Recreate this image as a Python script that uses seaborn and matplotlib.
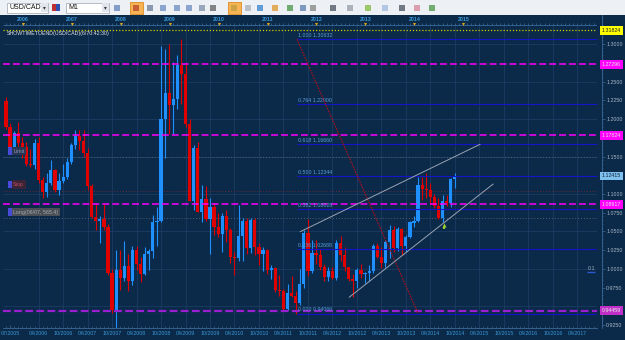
import matplotlib
matplotlib.use("Agg")
import numpy as np
import matplotlib.pyplot as plt
import matplotlib.transforms as mtransforms
from matplotlib.patches import Rectangle
from matplotlib.ticker import MultipleLocator
import seaborn as sns

# monthly USD/CAD candles, first bar = 08/2005, last bar = 10/2014
opens = [
    1.2240, 1.1887, 1.1615, 1.1808, 1.1680,                                          # 2005
    1.1630, 1.1405, 1.1385, 1.1675, 1.1185, 1.1030, 1.1150, 1.1315, 1.1050, 1.1170, 1.1230, 1.1425,  # 2006
    1.1650, 1.1780, 1.1710, 1.1550, 1.1100, 1.0690, 1.0640, 1.0660, 1.0560, 0.9950, 0.9450, 0.9990,  # 2007
    0.9885, 1.0040, 0.9840, 1.0250, 1.0070, 0.9930, 1.0200, 1.0235, 1.0620, 1.0640, 1.2000, 1.2350,  # 2008
    1.2185, 1.2270, 1.2720, 1.2600, 1.1930, 1.0910, 1.1620, 1.0765, 1.0930, 1.0670, 1.0820, 1.0565,  # 2009
    1.0465, 1.0700, 1.0520, 1.0165, 1.0150, 1.0445, 1.0644, 1.0276, 1.0653, 1.0290, 1.0200, 1.0255,  # 2010
    0.9980, 1.0010, 0.9720, 0.9705, 0.9465, 0.9685, 0.9645, 0.9545, 0.9795, 1.0475, 0.9975, 1.0215,  # 2011
    1.0190, 1.0025, 0.9895, 0.9975, 0.9880, 1.0345, 1.0190, 1.0025, 0.9865, 0.9835, 0.9985, 0.9935,  # 2012
    0.9950, 0.9975, 1.0305, 1.0160, 1.0075, 1.0365, 1.0515, 1.0275, 1.0530, 1.0300, 1.0430, 1.0615,  # 2013
    1.0640, 1.1120, 1.1065, 1.1050, 1.0965, 1.0835, 1.0675, 1.0900, 1.0875, 1.1195,                  # 2014
]
highs = [
    1.2290, 1.1945, 1.1840, 1.1960, 1.1760,
    1.1700, 1.1600, 1.1740, 1.1760, 1.1220, 1.1280, 1.1450, 1.1330, 1.1280, 1.1400, 1.1480, 1.1680,
    1.1850, 1.1860, 1.1860, 1.1610, 1.1130, 1.0860, 1.0700, 1.0860, 1.0600, 1.0000, 1.0250, 1.0250,
    1.0370, 1.0200, 1.0300, 1.0310, 1.0160, 1.0290, 1.0260, 1.0720, 1.0820, 1.2980, 1.2940, 1.3000,
    1.2760, 1.2850, 1.3065, 1.2750, 1.2000, 1.1660, 1.1700, 1.1120, 1.1100, 1.0950, 1.0880, 1.0740,
    1.0740, 1.0780, 1.0540, 1.0230, 1.0850, 1.0680, 1.0680, 1.0680, 1.0680, 1.0340, 1.0290, 1.0260,
    1.0050, 1.0020, 0.9920, 0.9730, 0.9800, 0.9900, 0.9700, 1.0000, 1.0520, 1.0660, 1.0380, 1.0390,
    1.0270, 1.0060, 1.0020, 1.0020, 1.0380, 1.0440, 1.0290, 1.0030, 0.9930, 1.0010, 1.0060, 0.9960,
    1.0050, 1.0330, 1.0340, 1.0290, 1.0380, 1.0580, 1.0570, 1.0560, 1.0550, 1.0450, 1.0640, 1.0700,
    1.1220, 1.1220, 1.1280, 1.1140, 1.1000, 1.0940, 1.0990, 1.0990, 1.1210, 1.1280,
]
lows = [
    1.1870, 1.1560, 1.1560, 1.1630, 1.1480,
    1.1380, 1.1360, 1.1340, 1.1140, 1.0940, 1.0960, 1.1120, 1.1030, 1.0990, 1.1150, 1.1200, 1.1400,
    1.1600, 1.1590, 1.1500, 1.1050, 1.0680, 1.0520, 1.0350, 1.0520, 0.9920, 0.9410, 0.9060, 0.9720,
    0.9840, 0.9710, 0.9790, 0.9990, 0.9820, 0.9920, 0.9980, 1.0150, 1.0300, 1.0620, 1.1480, 1.1800,
    1.1800, 1.2130, 1.2200, 1.1900, 1.0900, 1.0780, 1.0760, 1.0630, 1.0640, 1.0200, 1.0450, 1.0420,
    1.0230, 1.0360, 1.0080, 0.9920, 1.0100, 1.0100, 1.0200, 1.0210, 1.0180, 1.0050, 0.9970, 0.9930,
    0.9870, 0.9690, 0.9640, 0.9450, 0.9450, 0.9620, 0.9406, 0.9520, 0.9750, 0.9900, 0.9950, 1.0060,
    0.9990, 0.9840, 0.9840, 0.9860, 0.9850, 1.0100, 0.9970, 0.9840, 0.9630, 0.9750, 0.9880, 0.9810,
    0.9840, 0.9950, 1.0140, 1.0010, 1.0020, 1.0150, 1.0230, 1.0240, 1.0180, 1.0230, 1.0410, 1.0560,
    1.0630, 1.0920, 1.0950, 1.0860, 1.0810, 1.0660, 1.0620, 1.0840, 1.0830, 1.1080,
]
closes = [
    1.1887, 1.1615, 1.1808, 1.1680, 1.1630,
    1.1405, 1.1385, 1.1675, 1.1185, 1.1030, 1.1150, 1.1315, 1.1050, 1.1170, 1.1230, 1.1425, 1.1650,
    1.1780, 1.1710, 1.1550, 1.1100, 1.0690, 1.0640, 1.0660, 1.0560, 0.9950, 0.9450, 0.9990, 0.9885,
    1.0040, 0.9840, 1.0250, 1.0070, 0.9930, 1.0200, 1.0235, 1.0620, 1.0640, 1.2000, 1.2350, 1.2185,
    1.2270, 1.2720, 1.2600, 1.1930, 1.0910, 1.1620, 1.0765, 1.0930, 1.0670, 1.0820, 1.0565, 1.0465,
    1.0700, 1.0520, 1.0155, 1.0150, 1.0445, 1.0644, 1.0276, 1.0653, 1.0290, 1.0200, 1.0255, 0.9980,
    1.0010, 0.9720, 0.9705, 0.9465, 0.9685, 0.9645, 0.9545, 0.9795, 1.0475, 0.9975, 1.0215, 1.0190,
    1.0025, 0.9895, 0.9975, 0.9880, 1.0345, 1.0190, 1.0025, 0.9865, 0.9835, 0.9985, 0.9935, 0.9950,
    0.9975, 1.0305, 1.0160, 1.0075, 1.0365, 1.0515, 1.0275, 1.0530, 1.0300, 1.0430, 1.0630, 1.0640,
    1.1120, 1.1065, 1.1050, 1.0965, 1.0835, 1.0675, 1.0900, 1.0875, 1.1195, 1.12415,
]
first_bar = (2005, 8)

# axis labels
date_labels = ['07/2005', '04/2006', '10/2006', '04/2007', '10/2007', '04/2008', '10/2008',
               '04/2009', '10/2009', '04/2010', '10/2010', '04/2011', '10/2011', '04/2012',
               '10/2012', '04/2013', '10/2013', '04/2014', '10/2014', '04/2015', '10/2015',
               '04/2016', '10/2016', '04/2017']
year_labels = ['2006', '2007', '2008', '2009', '2010', '2011', '2012', '2013', '2014', '2015']
price_ticks = [0.925, 0.950, 0.975, 1.000, 1.025, 1.050, 1.075, 1.100, 1.125, 1.150,
               1.175, 1.200, 1.225, 1.250, 1.275, 1.300]

# fibonacci retracement
fib_ratios = ['0.000', '0.236', '0.382', '0.500', '0.618', '0.764', '1.000']
fib_prices = [0.94066, 1.02688, 1.08028, 1.12344, 1.16660, 1.22000, 1.30632]
fib_start = 71.3

# horizontal levels
magenta_levels = [1.27296, 1.17824, 1.08617]
purple_level = 0.94459
timer_level = 1.31824
current_price = 1.12415
order_names = ['Limit', 'Stop', 'Long(06/07, 565.4)']
order_levels = [1.1487, 1.1044, 1.0676]

# trend lines (bar index, price)
fib_line_x, fib_line_y = [71.3, 101.0], [1.30632, 0.94066]
upper_x, upper_y = [72.1, 116.2], [1.0497, 1.1663]
lower_x, lower_y = [84.1, 119.4], [0.9623, 1.1133]
arrow_x, arrow_y = 107.4, 1.0560

# ---------------------------------------------------------------
sns.set_theme(style='dark')
plt.rcParams['font.family'] = ['Liberation Sans', 'DejaVu Sans']

bg = '#0b2948'
grid_c = '#1c3c62'
ruler_c = '#3d6a98'
lbl_blue = '#3a9ad9'
bull, bear = '#1e90ff', '#e00000'
fs = 3.8

fig = plt.figure(figsize=(6.25, 3.4), dpi=100, facecolor=bg)
ax = fig.add_axes([3 / 625, 12 / 340, 594 / 625, 313 / 340])
ax.set_facecolor(bg)
xmin, xmax = -0.735, 144.85
ymin, ymax = 0.92133, 1.33867
ax.set_xlim(xmin, xmax)
ax.set_ylim(ymin, ymax)


def bar_index(label):
    mm, yy = label.split('/')
    return (int(yy) - first_bar[0]) * 12 + int(mm) - first_bar[1]


date_pos = [max(bar_index(s), 1.0) for s in date_labels]

# grid
ax.vlines(date_pos[1:], ymin, 1.3249, colors=grid_c, lw=0.6, zorder=1)
ax.hlines(np.arange(0.95, 1.31, 0.05), xmin, xmax, colors=grid_c, lw=0.6, zorder=1)

# candles
o, h, l, c = map(np.array, (opens, highs, lows, closes))
x = np.arange(len(o))
col = np.where(c >= o, bull, bear)
ax.vlines(x, l, h, colors=col, lw=0.8, zorder=3)
body = np.maximum(np.abs(c - o), 0.0012)
ax.bar(x, body, bottom=np.minimum(o, c), width=0.78, color=col, linewidth=0, zorder=4)

# horizontal levels
for lvl in magenta_levels:
    ax.hlines(lvl, xmin, xmax, colors='#ff00ff', lw=1.1, linestyles=(0, (4.5, 2)), zorder=5)
ax.hlines(purple_level, xmin, xmax, colors='#9a1fd0', lw=1.6, linestyles=(0, (3.5, 1.5)), zorder=5)
ax.hlines(timer_level, xmin, xmax, colors='#cccc00', lw=0.9, linestyles=(0, (1, 1.5)), zorder=5)

order_line_c = ['#55606e', '#6a2a3a', '#55606e']
order_fc = ['#2a3552', '#3a2538', '#4a4f57']
order_tc = ['#8c96b8', '#c04858', '#a6aab0']
for name, lvl, lc, fc, tc in zip(order_names, order_levels, order_line_c, order_fc, order_tc):
    ax.hlines(lvl, xmin, xmax, colors=lc, lw=0.7, linestyles=(0, (1, 2)), zorder=2)
    ax.text(1.75, lvl + 0.0082, name, fontsize=fs, color=tc, va='center', ha='left', zorder=8,
            bbox=dict(boxstyle='square,pad=0.3', fc=fc, ec='none'))
    ax.add_patch(Rectangle((0.5, lvl + 0.0082 - 0.0052), 0.85, 0.0104, fc='#4a4ad8', ec='none', zorder=9))

for r, p in zip(fib_ratios, fib_prices):
    ax.hlines(p, fib_start, xmax, colors='#1414c8', lw=0.8, zorder=5)
    ax.text(fib_start + 0.2, p + 0.0047, f'{r} {p:.5f}', fontsize=fs, color='#5aa0e0',
            va='center', ha='left', zorder=6)

# trend lines
sns.lineplot(x=fib_line_x, y=fib_line_y, ax=ax, color='#b01020', lw=0.8,
             dashes=False, zorder=6).lines[-1].set_linestyle((0, (1.5, 1)))
sns.lineplot(x=upper_x, y=upper_y, ax=ax, color='#9aa4b4', lw=0.7, zorder=6)
sns.lineplot(x=lower_x, y=lower_y, ax=ax, color='#9aa4b4', lw=0.7, zorder=6)
ax.scatter([arrow_x], [arrow_y + 0.002], marker='^', s=9, color='#9acd32', linewidths=0, zorder=7)
ax.scatter([arrow_x], [arrow_y - 0.0015], marker='s', s=3, color='#9acd32', linewidths=0, zorder=7)

# top time ruler with year markers
ruler_y = 1.3249
ax.hlines(ruler_y, xmin, xmax, colors=ruler_c, lw=0.6, zorder=5)
ax.vlines(np.arange(0, 145), ruler_y, ruler_y + 0.0025, colors=ruler_c, lw=0.5, zorder=5)
year_pos = [(int(y) - first_bar[0]) * 12 + 1 - first_bar[1] - 0.9 for y in year_labels]
for yp, ys in zip(year_pos, year_labels):
    ax.text(yp, 1.3333, ys, fontsize=fs, color=lbl_blue, fontweight='bold', ha='center', va='center')
ax.scatter(year_pos, [1.3266] * len(year_pos), marker='v', s=5, color='#d8a520', linewidths=0, zorder=6)

ax.text(0.25, 1.3145, 'SHOWTIMETOEND(USD/CAD)(6/70:42:30)', fontsize=fs, color='#e6e6e6',
        ha='left', va='center', zorder=8)
ax.text(144.4, 1.0004, '0.1', fontsize=fs, color='#9fb3c8', ha='right', va='center')
ax.hlines(0.9962, 142.3, 144.3, colors='#2a5ad0', lw=1.0)

# axes styling
for side in ('left', 'top'):
    ax.spines[side].set_visible(False)
ax.spines['bottom'].set_color(ruler_c)
ax.spines['bottom'].set_linewidth(0.6)
ax.spines['right'].set_color(ruler_c)
ax.spines['right'].set_linewidth(0.6)
ax.spines['right'].set_position(('outward', 3.6))

ax.set_xticks(date_pos)
ax.set_xticklabels(date_labels)
ax.xaxis.set_minor_locator(MultipleLocator(1))
ax.tick_params(axis='x', which='major', direction='in', length=2.5, width=0.5, color=ruler_c,
               labelcolor=lbl_blue, labelsize=fs, pad=2.5, bottom=True)
ax.tick_params(axis='x', which='minor', direction='in', length=1.3, width=0.4, color=ruler_c, bottom=True)

# price boxes sit on top of the scale; their levels hide the tick text beneath them
boxed = [timer_level, current_price, purple_level] + magenta_levels
ax.yaxis.tick_right()
ax.set_yticks(price_ticks)
ax.set_yticklabels(['' if min(abs(v - b) for b in boxed) < 0.006 else f'{v:.4f}'
                    for v in price_ticks])
ax.yaxis.set_minor_locator(MultipleLocator(0.005))
ax.tick_params(axis='y', which='major', direction='out', length=2, width=0.5, color=ruler_c,
               labelcolor='#a8b8c8', labelsize=fs, pad=1, right=True, left=False)
ax.tick_params(axis='y', which='minor', direction='out', length=1, width=0.4, color=ruler_c,
               right=True, left=False)
ax.grid(False)

trans = mtransforms.blended_transform_factory(ax.transAxes, ax.transData)


def price_box(y, fc, tc):
    ax.text(1.0084, y, f'{y:.5f}', transform=trans, fontsize=fs, color=tc, ha='left', va='center',
            zorder=20, clip_on=False, bbox=dict(boxstyle='square,pad=0.35', fc=fc, ec='none'))


price_box(timer_level, '#ffff00', '#202020')
for lvl in magenta_levels:
    price_box(lvl, '#ff00ff', '#e8e8e8')
price_box(current_price, '#7ec0ee', '#102030')
price_box(purple_level, '#c030c8', '#e8e8e8')

# terminal toolbar strip
tb = fig.add_axes([0, 1 - 15 / 340, 1, 15 / 340])
tb.set_xlim(0, 625)
tb.set_ylim(15, 0)
tb.axis('off')
tb.add_patch(Rectangle((0, 0), 625, 15, fc='#edf0f4', ec='none'))
tb.hlines(14.5, 0, 625, colors='#aab4c0', lw=0.6)
for x0, w, txt in ((7, 41, 'USD/CAD'), (66, 43, 'M1')):
    tb.add_patch(Rectangle((x0, 2.5), w, 10, fc='white', ec='#9aa6b4', lw=0.5))
    tb.add_patch(Rectangle((x0 + w - 7, 3), 6.5, 9, fc='#e2e6ec', ec='none'))
    tb.text(x0 + 2, 7.8, txt, fontsize=5, color='#111111', va='center', ha='left')
    tb.text(x0 + w - 3.7, 8, '▾', fontsize=4, color='#333333', va='center', ha='center',
            family='DejaVu Sans')
tb.add_patch(Rectangle((52, 4), 4, 7, fc='#c03030', ec='none'))
tb.add_patch(Rectangle((56, 4), 4, 7, fc='#3050b0', ec='none'))
for hx in (130, 228):
    tb.add_patch(Rectangle((hx, 1.5), 13, 12, fc='#f7b455', ec='#e08a20', lw=0.6))
icons = [(117, '#6f8fc0'), (136, '#c05030'), (150, '#7a8aa0'), (163, '#7a98c8'), (177, '#7a98c8'),
         (189, '#7a98c8'), (202, '#8a9ab0'), (213, '#707070'), (234, '#c8a040'), (248, '#b0b8c0'),
         (260, '#4a90d0'), (275, '#e0a040'), (290, '#5aa05a'), (303, '#6a8ab8'), (313, '#909090'),
         (333, '#5a6470'), (350, '#a0a8b0'), (368, '#8cc152'), (385, '#a8c0e0'), (402, '#5a6470'),
         (417, '#d890a0'), (432, '#5aa05a')]
for ix, ic in icons:
    tb.add_patch(Rectangle((ix - 3, 4.5), 6, 6, fc=ic, ec='none', alpha=0.85))

fig.savefig('out.png', dpi=100, facecolor=bg)
